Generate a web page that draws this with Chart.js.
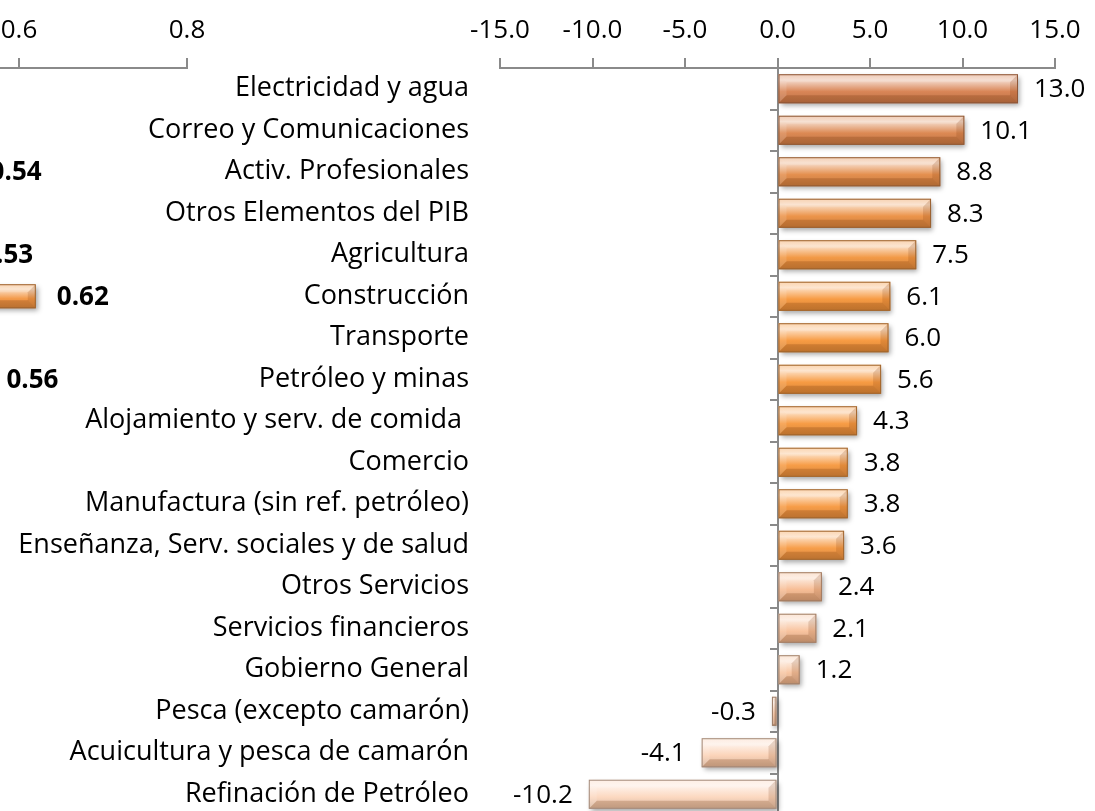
<!DOCTYPE html>
<html>
<head>
<meta charset="utf-8">
<script src="https://cdn.jsdelivr.net/npm/chart.js@4/dist/chart.umd.min.js"></script>
<style>
  html, body { margin: 0; padding: 0; background: #fff; overflow: hidden; }
  #wrap { position: relative; width: 1095px; height: 811px; overflow: hidden; }
  #sideChart { position: absolute; left: -200px; top: 0; }
  #myChart { position: absolute; left: 0; top: 0; }
</style>
</head>
<body>
<div id="wrap">
  <canvas id="sideChart" width="420" height="820"></canvas>
  <canvas id="myChart" width="1095" height="820"></canvas>
</div>
<script>
// sectores (de arriba hacia abajo)
const sectores = [
  'Electricidad y agua',
  'Correo y Comunicaciones',
  'Activ. Profesionales',
  'Otros Elementos del PIB',
  'Agricultura',
  'Construcción',
  'Transporte',
  'Petróleo y minas',
  'Alojamiento y serv. de comida ',
  'Comercio',
  'Manufactura (sin ref. petróleo)',
  'Enseñanza, Serv. sociales y de salud',
  'Otros Servicios',
  'Servicios financieros',
  'Gobierno General',
  'Pesca (excepto camarón)',
  'Acuicultura y pesca de camarón',
  'Refinación de Petróleo'
];
const crecimiento = [13.0, 10.1, 8.8, 8.3, 7.5, 6.1, 6.0, 5.6, 4.3, 3.8, 3.8, 3.6, 2.4, 2.1, 1.2, -0.3, -4.1, -10.2];
const xTicks = [-15, -10, -5, 0, 5, 10, 15];

// grafico vecino (recortado a la izquierda)
const vecinoFilas = ['', '', '', '', '', '', '', '', '', '', '', '', '', '', '', '', '', ''];
const vecinoValores = [null, null, 0.54, null, 0.53, 0.62, null, 0.56, null, null, null, null, null, null, null, null, null, null];
const vecinoTicks = [0.4, 0.6, 0.8];

const barColors = [
  '#d98556', '#dc8953', '#e48f4e', '#ec944a', '#f29946', '#f79b43', '#f79b43', '#f79b43', '#f79c45',
  '#f79d47', '#f79d48', '#f79e4a', '#f7bd95', '#f8c39e', '#f8c6a3', '#efc0a0', '#fbd3b8', '#fcd8c0'
];

const FONT = '"Open Sans", "Noto Sans", sans-serif';
const AXIS = '#8a8a8a';

function mix(hex, other, t) {
  const a = parseInt(hex.slice(1), 16), b = parseInt(other.slice(1), 16);
  const ch = (n, s) => (n >> s) & 255;
  const m = s => Math.round(ch(a, s) * (1 - t) + ch(b, s) * t);
  return 'rgb(' + m(16) + ',' + m(8) + ',' + m(0) + ')';
}

function poly(ctx, pts, fill) {
  ctx.beginPath();
  ctx.moveTo(pts[0][0], pts[0][1]);
  for (let i = 1; i < pts.length; i++) ctx.lineTo(pts[i][0], pts[i][1]);
  ctx.closePath();
  ctx.fillStyle = fill;
  ctx.fill();
}

/* barras con bisel (estilo Excel) */
const bevelBars = {
  id: 'bevelBars',
  beforeDatasetDraw: (chart, args) => {
    const { ctx } = chart;
    const ds = chart.data.datasets[args.index];
    const colors = Array.isArray(ds.backgroundColor) ? ds.backgroundColor : [];
    args.meta.data.forEach((bar, i) => {
      if (ds.data[i] === null) return;
      const p = bar.getProps(['x', 'y', 'base', 'height'], true);
      const L = Math.min(p.x, p.base), R = Math.max(p.x, p.base);
      const T = p.y - p.height / 2, B = p.y + p.height / 2;
      const w = R - L;
      if (!(w > 0)) return;
      const c = colors[i] || ds.backgroundColor;
      const b = Math.min(8, w / 2, p.height / 3);

      ctx.save();
      ctx.shadowColor = 'rgba(0,0,0,0.35)';
      ctx.shadowBlur = 5;
      ctx.shadowOffsetX = 2;
      ctx.shadowOffsetY = 3;
      const g = ctx.createLinearGradient(0, T, 0, B);
      g.addColorStop(0, mix(c, '#ffffff', 0.5));
      g.addColorStop(0.2, mix(c, '#ffffff', 0.7));
      g.addColorStop(0.6, c);
      g.addColorStop(1, mix(c, '#000000', 0.15));
      ctx.fillStyle = g;
      ctx.fillRect(L, T, w, B - T);
      ctx.restore();

      ctx.save();
      poly(ctx, [[L, T], [R, T], [R - b, T + b], [L + b, T + b]], 'rgba(255,255,255,0.15)');
      poly(ctx, [[L, B], [R, B], [R - b, B - b], [L + b, B - b]], 'rgba(110,45,0,0.22)');
      poly(ctx, [[R, T], [R, B], [R - b, B - b], [R - b, T + b]], 'rgba(110,45,0,0.16)');
      poly(ctx, [[L, T], [L, B], [L + b, B - b], [L + b, T + b]], 'rgba(255,255,255,0.12)');
      ctx.strokeStyle = mix(c, '#000000', 0.35);
      ctx.lineWidth = 1;
      ctx.strokeRect(L + 0.5, T + 0.5, w - 1, B - T - 1);
      ctx.restore();
    });
    return false;
  }
};

/* etiquetas de valor al final de cada barra */
const barLabels = {
  id: 'barLabels',
  afterDatasetsDraw: (chart, args, opts) => {
    const { ctx } = chart;
    const values = chart.data.datasets[0].data;
    const meta = chart.getDatasetMeta(0);
    ctx.save();
    ctx.font = opts.font;
    ctx.fillStyle = '#000';
    ctx.textBaseline = 'middle';
    meta.data.forEach((bar, i) => {
      const v = values[i];
      if (v === null) return;
      const { x, y } = bar.getProps(['x', 'y'], true);
      const txt = v.toFixed(opts.digits);
      if (v >= 0) {
        ctx.textAlign = 'left';
        ctx.fillText(txt, x + opts.offset, y + 1);
      } else {
        ctx.textAlign = 'right';
        ctx.fillText(txt, x - opts.offset, y + 1);
      }
    });
    ctx.restore();
  }
};

const config = {
  type: 'bar',
  data: {
    labels: sectores,
    datasets: [{
      data: crecimiento,
      backgroundColor: barColors,
      barPercentage: 0.7,
      categoryPercentage: 1.0
    }]
  },
  options: {
    indexAxis: 'y',
    responsive: false,
    animation: false,
    layout: { padding: { left: 0, right: 40, top: 0, bottom: 5 } },
    scales: {
      x: {
        position: 'top',
        min: -15,
        max: 15,
        afterBuildTicks: s => { s.ticks = xTicks.map(v => ({ value: v })); },
        ticks: {
          callback: v => v.toFixed(1),
          font: { family: FONT, size: 26 },
          color: '#000',
          padding: 12,
          maxRotation: 0
        },
        grid: { drawOnChartArea: false, tickLength: 10, color: AXIS, lineWidth: 2 },
        border: { color: AXIS, width: 2 },
        afterFit: s => { s.height = 68; s.paddingLeft = 0; s.paddingRight = 0; }
      },
      y: {
        position: 'left',
        offset: true,
        grid: { display: false, offset: true },
        border: { display: false },
        ticks: { font: { family: FONT, size: 27 }, color: '#000', padding: 23, autoSkip: false },
        afterFit: s => { s.width = 500; s.paddingTop = 0; s.paddingBottom = 0; }
      },
      y2: {
        type: 'category',
        axis: 'y',
        position: { x: 0 },
        offset: true,
        grid: { drawOnChartArea: false, offset: true, tickLength: 7, color: AXIS, lineWidth: 2 },
        border: { color: AXIS, width: 2 },
        ticks: { display: false },
        afterFit: s => { s.paddingTop = 0; s.paddingBottom = 0; }
      }
    },
    plugins: {
      legend: { display: false },
      tooltip: { enabled: false },
      barLabels: { font: '26px ' + FONT, offset: 16, digits: 1 }
    }
  },
  plugins: [bevelBars, barLabels]
};

const sideConfig = {
  type: 'bar',
  data: {
    labels: vecinoFilas,
    datasets: [{
      data: vecinoValores,
      backgroundColor: '#f39a4a',
      barPercentage: 0.58,
      categoryPercentage: 1.0
    }]
  },
  options: {
    indexAxis: 'y',
    responsive: false,
    animation: false,
    layout: { padding: { left: 51, right: 33, top: 0, bottom: 5 } },
    scales: {
      x: {
        position: 'top',
        min: 0.4,
        max: 0.8,
        afterBuildTicks: s => { s.ticks = vecinoTicks.map(v => ({ value: v })); },
        ticks: {
          callback: v => v.toFixed(1),
          font: { family: FONT, size: 26 },
          color: '#000',
          padding: 12
        },
        grid: { drawOnChartArea: false, tickLength: 10, color: AXIS, lineWidth: 2 },
        border: { color: AXIS, width: 2 },
        afterFit: s => { s.height = 68; s.paddingLeft = 0; s.paddingRight = 0; }
      },
      y: { display: false, offset: true }
    },
    plugins: {
      legend: { display: false },
      tooltip: { enabled: false },
      barLabels: { font: 'bold 26px ' + FONT, offset: 21, digits: 2 }
    }
  },
  plugins: [bevelBars, barLabels]
};

new Chart(document.getElementById('sideChart'), sideConfig);
var myChart = new Chart(document.getElementById('myChart'), config);
</script>
</body>
</html>
